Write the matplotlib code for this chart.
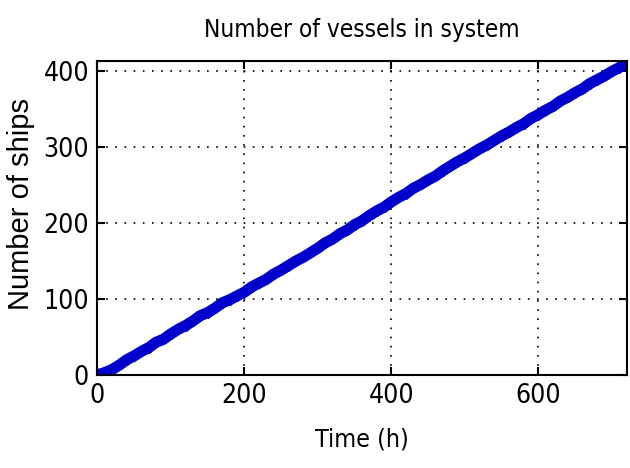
import matplotlib
matplotlib.use("Agg")
import matplotlib.pyplot as plt

# hours and number of vessels
hours = list(range(0, 721, 10))
ships = [0, 3, 7, 13, 20, 25, 31, 36, 43, 47, 54, 60, 65, 71, 78, 82, 88, 95, 99, 104,
         109, 116, 121, 126, 133, 138, 144, 150, 155, 161, 167, 174, 179, 186, 191, 198,
         203, 210, 216, 221, 228, 234, 239, 246, 251, 257, 262, 269, 275, 281, 286, 292,
         298, 303, 309, 315, 320, 326, 331, 338, 343, 349, 354, 361, 366, 372, 377, 384,
         389, 394, 400, 405, 411]
x_ticks = [0, 200, 400, 600]
y_ticks = [0, 100, 200, 300, 400]

fig = plt.figure(figsize=(6.3, 4.68), dpi=100)
ax = fig.add_axes([0.1545, 0.199, 0.841, 0.671])
ax.plot(hours, ships, color='#0000cc', linewidth=8, marker='D', markersize=5, solid_joinstyle='miter')
ax.set_xlim(0, 721)
ax.set_ylim(0, 414)
ax.set_xticks(x_ticks)
ax.set_yticks(y_ticks)
ax.grid(True, color='black', linestyle=(0, (1, 4.5)), linewidth=1.2)
ax.tick_params(direction='in', length=6, width=1.5, top=True, right=True,
               labelsize=19, pad=6)
for lab in ax.get_xticklabels() + ax.get_yticklabels():
    lab.set_family('DejaVu Sans')
    lab.set_stretch('condensed')
for s in ax.spines.values():
    s.set_linewidth(1.5)
ax.set_title('Number of vessels in system', family='DejaVu Sans', stretch='condensed',
             fontsize=17.5, pad=17)
ax.set_xlabel('Time (h)', family='DejaVu Sans', stretch='condensed', fontsize=18, labelpad=13)
ax.set_ylabel('Number of ships', family='Liberation Sans', fontsize=21)
ax.yaxis.set_label_coords(-0.118, 0.545)
fig.savefig('out.png', dpi=100)
